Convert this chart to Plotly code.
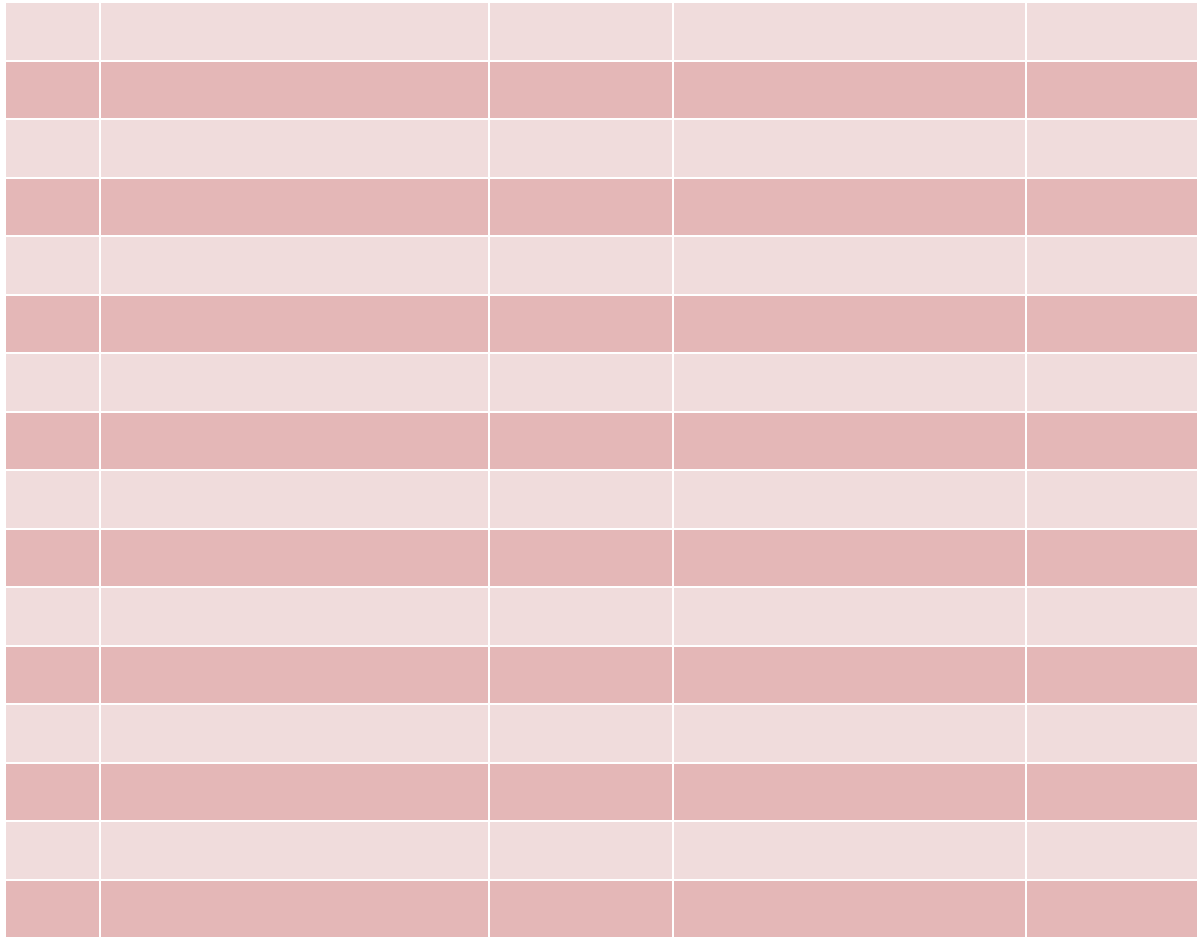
import plotly.graph_objects as go

columns = ["", "", "", "", ""]
col_widths = [95, 389, 184, 353, 172]
n_rows = 15
col_a = [""] * n_rows
col_b = [""] * n_rows
col_c = [""] * n_rows
col_d = [""] * n_rows
col_e = [""] * n_rows

light = "#f0dcdc"
dark = "#e4b7b7"
row_fill = [dark if i % 2 == 0 else light for i in range(n_rows)]

fig = go.Figure(go.Table(
    columnwidth=col_widths,
    header=dict(values=columns, fill_color=light, line=dict(color="white", width=2), height=58.5),
    cells=dict(values=[col_a, col_b, col_c, col_d, col_e],
               fill_color=[row_fill] * 5,
               line=dict(color="white", width=2), height=58.5),
))
fig.update_layout(width=1203, height=938, margin=dict(l=5, r=5, t=2, b=0),
                  paper_bgcolor="white")
fig.write_html("out.html", config={"displayModeBar": False},
               post_script="document.body.style.margin='0';")
